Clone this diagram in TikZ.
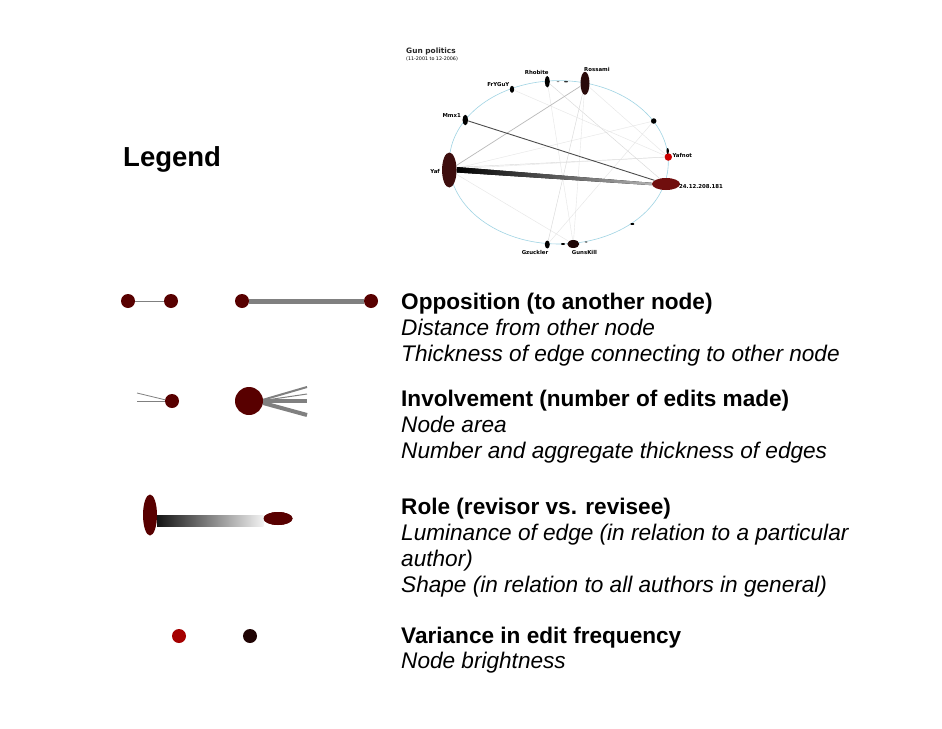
\documentclass[tikz,border=0pt]{standalone}
\usepackage{fontspec}
\setmainfont{Liberation Sans}
\newfontfamily\dvsans{DejaVu Sans}
\usetikzlibrary{shapes.geometric,calc}
\definecolor{nodered}{RGB}{88,0,0}
\definecolor{yafc}{RGB}{62,14,14}
\definecolor{rossc}{RGB}{42,10,10}
\definecolor{ipc}{RGB}{112,14,14}
\definecolor{gkc}{RGB}{30,6,6}
\definecolor{varred}{RGB}{165,0,0}
\definecolor{vardark}{RGB}{32,4,4}
\definecolor{ringblue}{RGB}{160,212,228}
\definecolor{edgegray}{RGB}{128,128,128}
\begin{document}
\begin{tikzpicture}[x=1pt,y=-1pt,
  gn/.style={ellipse, inner sep=0pt, draw=none},
  ldot/.style={circle, fill=nodered, inner sep=0pt, minimum size=14pt},
  lab/.style={font=\dvsans\bfseries\fontsize{5.4}{6}\selectfont, inner sep=0pt},
  head/.style={font=\bfseries\fontsize{22.6}{26}\selectfont, inner sep=0pt, anchor=base west},
  desc/.style={font=\itshape\fontsize{22.6}{26}\selectfont, inner sep=0pt, anchor=base west},
  faint/.style={draw=gray!30, line width=0.45pt},
  fainter/.style={draw=gray!20, line width=0.4pt},
  ledge/.style={draw=edgegray}]
\useasboundingbox (0,0) rectangle (942,728);
\fill[white] (0,0) rectangle (942,728);

% ---------- small graph ----------
\draw[ringblue, line width=0.6pt] (558.8,162.3) ellipse [x radius=109.5, y radius=81.7];

\node[gn, fill=yafc, minimum width=14.5pt, minimum height=35pt] (yaf) at (449.3,170) {};
\node[gn, fill=rossc, minimum width=9pt, minimum height=23pt] (ross) at (585,83.3) {};
\node[gn, fill=black, minimum width=5pt, minimum height=11.5pt] (rhob) at (547.3,81.7) {};
\node[gn, fill=black, minimum width=4.3pt, minimum height=7pt] (fry) at (512,89.3) {};
\node[gn, fill=black, minimum width=5.5pt, minimum height=10.5pt] (mmx) at (465.3,120) {};
\node[gn, fill=black, minimum size=5.5pt] (dotA) at (653.7,121) {};
\node[gn, fill=red!80!black, minimum size=7.5pt] (yafn) at (668.3,157) {};
\node[gn, fill=black, minimum width=2.5pt, minimum height=6pt] (yafnm) at (667.7,151) {};
\node[gn, fill=ipc, minimum width=28pt, minimum height=12pt] (ip) at (666,184) {};
\node[gn, fill=black, minimum width=4pt, minimum height=2pt] (dotB) at (632.3,224) {};
\node[gn, fill=gkc, minimum width=12pt, minimum height=8pt] (gk) at (573.3,244) {};
\node[gn, fill=black, minimum width=5pt, minimum height=8pt] (gz) at (547.3,244.5) {};
\node[gn, fill=black, minimum width=4pt, minimum height=2pt] (mkA) at (563,244) {};
\node[gn, fill=black!70, minimum width=3pt, minimum height=1.5pt] (mkB) at (586,242) {};
\node[gn, fill=black!60, minimum width=3pt, minimum height=1pt] (mkC) at (558,81.7) {};
\node[gn, fill=black!80, minimum width=4pt, minimum height=1.5pt] (mkD) at (566,81.7) {};

% edges
\draw[fainter] (yaf) -- (dotA);
\draw[faint] (yaf.20) -- (yafn);
\draw[fainter] (yaf.10) -- (yafn.west);
\draw[fainter] (yaf) -- (gk);
\draw[fainter] (yaf) -- (ip.west);
\draw[faint] (rhob) -- (ip);
\draw[fainter] (rhob) -- (gk);
\draw[faint] (ross) -- (gz);
\draw[fainter] (ross) -- (gk);
\draw[fainter] (fry) -- (yafn);
\draw[fainter] (gz) -- (dotA);
\draw[fainter] (ross) -- (yafn);
\draw[draw=gray!55, line width=0.7pt] (yaf) -- (ross);
\draw[draw=black!70, line width=0.9pt] (mmx) -- (ip);
\fill[left color=black, right color=gray!60]
  ($(yaf.east)+(0,-3)$) -- ($(ip.west)+(0,-1.2)$) -- ($(ip.west)+(0,1.2)$) -- ($(yaf.east)+(0,2.5)$) -- cycle;

% labels
\node[inner sep=0pt, anchor=west, font=\dvsans\bfseries\fontsize{7.4}{9}\selectfont, text=black!85] (title) at (406,51.7) {Gun politics};
\node[inner sep=0pt, anchor=west, font=\dvsans\fontsize{4.8}{5}\selectfont] (subtitle) at (406,59.3) {(11-2001 to 12-2006)};
\node[lab] (lrhob) at (536.7,72.3) {Rhobite};
\node[lab, anchor=west] (lross) at (584,69) {Rossami};
\node[lab] (lfry) at (498.3,84.3) {FrYGuY};
\node[lab, anchor=east] (lmmx) at (461,115.7) {Mmx1};
\node[lab, anchor=east] (lyaf) at (440,171.7) {Yaf};
\node[lab, anchor=west] (lyafn) at (672.3,155.7) {Yafnot};
\node[lab, anchor=west] (lip) at (679,186.7) {24.12.208.181};
\node[lab] (lgz) at (535,252) {Gzuckler};
\node[lab] (lgk) at (584.5,252) {GunsKill};

% ---------- legend ----------
\node[inner sep=0pt, anchor=base west, font=\bfseries\fontsize{27.5}{30}\selectfont] (legend) at (123,166.5) {Legend};

% row 1: opposition
\node[ldot] (oa) at (128,301) {};
\node[ldot] (ob) at (171,301) {};
\node[ldot] (oc) at (242,301) {};
\node[ldot] (od) at (371,301) {};
\draw[ledge, line width=1pt] (oa) -- (ob);
\draw[ledge, line width=5pt] (oc) -- (od);

% row 2: involvement
\node[ldot] (ia) at (172,401) {};
\coordinate (ia1) at (137,393);
\coordinate (ia2) at (137,401);
\draw[ledge, line width=0.8pt] (ia1) -- (ia.170);
\draw[ledge, line width=0.8pt] (ia2) -- (ia.west);
\node[circle, fill=nodered, inner sep=0pt, minimum size=28pt] (ib) at (249,401) {};
\coordinate (ib1) at (307,387);
\coordinate (ib2) at (307,394);
\coordinate (ib3) at (307,401);
\coordinate (ib4) at (307,415);
\draw[ledge, line width=2pt] (ib.5) -- (ib1);
\draw[ledge, line width=1pt] (ib.2) -- (ib2);
\draw[ledge, line width=4pt] (ib.east) -- (ib3);
\draw[ledge, line width=4pt] (ib.-8) -- (ib4);

% row 3: role
\node[gn, fill=nodered, minimum width=14pt, minimum height=41pt] (ra) at (150,515) {};
\node[gn, fill=nodered, minimum width=29pt, minimum height=13pt] (rb) at (278,518.5) {};
\fill[left color=black!92, right color=gray!10]
  ($(ra.east)+(0,0.5)$) rectangle ($(rb.west)+(0,7.5)$);
\node[gn, fill=nodered, minimum width=29pt, minimum height=13pt] (rb2) at (278,518.5) {};

% row 4: variance
\node[circle, fill=varred, inner sep=0pt, minimum size=14pt] (va) at (179,636) {};
\node[circle, fill=vardark, inner sep=0pt, minimum size=14pt] (vb) at (250,636) {};

% texts
\node[head] (h1) at (401,309) {Opposition (to another node)};
\node[desc] (d1a) at (401,335) {Distance from other node};
\node[desc] (d1b) at (401,361) {Thickness of edge connecting to other node};
\node[head] (h2) at (401,406) {Involvement (number of edits made)};
\node[desc] (d2a) at (401,432) {Node area};
\node[desc] (d2b) at (401,458) {Number and aggregate thickness of edges};
\node[head] (h3) at (401,514) {Role (revisor vs. revisee)};
\node[desc] (d3a) at (401,540) {Luminance of edge (in relation to a particular};
\node[desc] (d3b) at (401,566) {author)};
\node[desc] (d3c) at (401,592) {Shape (in relation to all authors in general)};
\node[head] (h4) at (401,643) {Variance in edit frequency};
\node[desc] (d4a) at (401,668) {Node brightness};
\end{tikzpicture}
\end{document}
